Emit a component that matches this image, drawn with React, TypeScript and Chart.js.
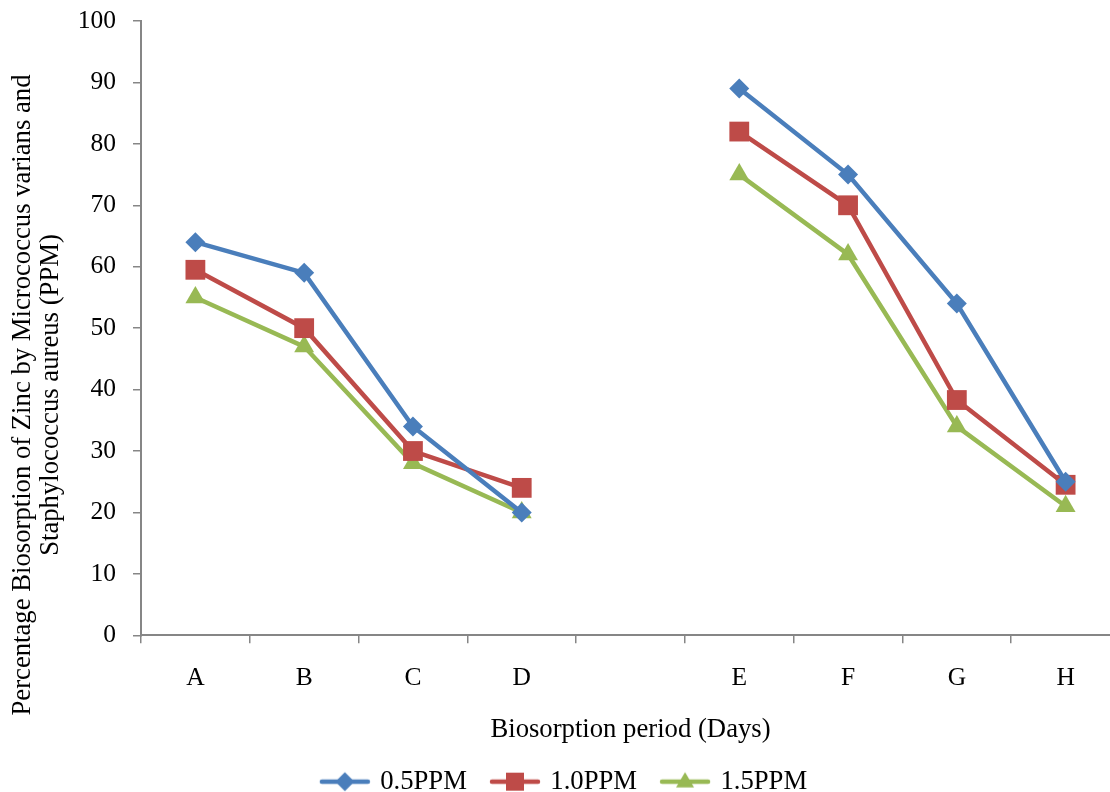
import React, { useEffect, useRef } from "react";
import { Chart, registerables } from "chart.js";

Chart.register(...registerables);

const categories = ["A", "B", "C", "D", "", "E", "F", "G", "H"];
const seriesNames = ["0.5PPM", "1.0PPM", "1.5PPM"];
const ppm05 = [64, 59, 34, 20, null, 89, 75, 54, 25];
const ppm10 = [59.5, 50, 30, 24, null, 82, 70, 38.3, 24.5];
const ppm15 = [55, 47, 28, 20, null, 75, 62, 34, 21];
const yTicks = [0, 10, 20, 30, 40, 50, 60, 70, 80, 90, 100];
const xTitle = "Biosorption period (Days)";
const yTitleLines = [
  "Percentage Biosorption of Zinc by Micrococcus varians and",
  "Staphylococcus aureus (PPM)",
];

const colors = ["#4A7EBB", "#BE4B48", "#98B954"];
const pointStyles = ["rectRot", "rect", "triangle"];
const pointRadii = [10, 14, 11.5];
const FONT = "'Liberation Serif', 'Times New Roman', serif";
const AXIS = "#868686";
const TICK_SIZE = 25.5;
const TITLE_SIZE = 26.7;
const W = 1124;
const H = 805;

function legendSymbol(color: string, style: string, r: number) {
  const c = document.createElement("canvas");
  c.width = 56;
  c.height = 24;
  const ctx = c.getContext("2d")!;
  ctx.strokeStyle = color;
  ctx.fillStyle = color;
  ctx.lineWidth = 4.5;
  ctx.lineCap = "round";
  ctx.beginPath();
  ctx.moveTo(5, 12);
  ctx.lineTo(51, 12);
  ctx.stroke();
  ctx.beginPath();
  const cx = 28;
  if (style === "rectRot") {
    ctx.moveTo(cx, 12 - r);
    ctx.lineTo(cx + r, 12);
    ctx.lineTo(cx, 12 + r);
    ctx.lineTo(cx - r, 12);
  } else if (style === "rect") {
    const s = r * 0.95;
    ctx.rect(cx - s, 12 - s, 2 * s, 2 * s);
  } else {
    const h = r;
    ctx.moveTo(cx, 12 - h);
    ctx.lineTo(cx + h * 0.95, 12 + h * 0.6);
    ctx.lineTo(cx - h * 0.95, 12 + h * 0.6);
  }
  ctx.closePath();
  ctx.fill();
  return c;
}

const yTitlePlugin = {
  id: "yTitle",
  afterDraw(chart: any) {
    const ctx = chart.ctx;
    ctx.save();
    ctx.fillStyle = "#000";
    ctx.font = `${TITLE_SIZE}px ${FONT}`;
    ctx.textAlign = "center";
    ctx.textBaseline = "middle";
    const xs = [23, 51];
    yTitleLines.forEach((t, i) => {
      ctx.save();
      ctx.translate(xs[i], 395);
      ctx.rotate(-Math.PI / 2);
      ctx.fillText(t, 0, 0);
      ctx.restore();
    });
    ctx.restore();
  },
};

export default function App() {
  const ref = useRef<HTMLCanvasElement>(null);
  useEffect(() => {
    const data = [ppm05, ppm10, ppm15];
    const symbols = colors.map((c, i) => legendSymbol(c, pointStyles[i], 9.5));
    const chart = new Chart(ref.current!, {
      type: "line",
      data: {
        labels: categories,
        datasets: seriesNames.map((name, i) => ({
          label: name,
          data: data[i],
          borderColor: colors[i],
          backgroundColor: colors[i],
          borderWidth: 4.5,
          pointStyle: pointStyles[i] as any,
          pointRadius: pointRadii[i],
          pointBorderWidth: 0,
          pointBackgroundColor: colors[i],
          spanGaps: false,
          tension: 0,
          clip: false as any,
        })),
      },
      options: {
        animation: false,
        responsive: false,
        layout: { autoPadding: false, padding: { top: 21, right: 4, bottom: 0, left: 10 } },
        plugins: {
          tooltip: { enabled: false },
          legend: {
            position: "bottom",
            labels: {
              usePointStyle: true,
              pointStyleWidth: 44,
              padding: 26,
              color: "#000",
              font: { family: FONT, size: TITLE_SIZE, lineHeight: 1 },
              generateLabels: (ch: any) =>
                ch.data.datasets.map((d: any, i: number) => ({
                  text: d.label,
                  pointStyle: symbols[i],
                  fillStyle: colors[i],
                  strokeStyle: colors[i],
                  lineWidth: 0,
                  datasetIndex: i,
                  hidden: false,
                  fontColor: "#000",
                })),
            },
          },
        },
        scales: {
          x: {
            type: "category",
            offset: true,
            afterFit: (s: any) => {
              s.height = 107;
              s.paddingLeft = 0;
              s.paddingRight = 0;
            },
            grid: {
              offset: true,
              drawOnChartArea: false,
              drawTicks: true,
              tickLength: 8,
              color: AXIS,
              lineWidth: 1.5,
            },
            border: { display: true, color: AXIS, width: 2 },
            ticks: {
              color: "#000",
              padding: 20,
              maxRotation: 0,
              autoSkip: false,
              font: { family: FONT, size: TICK_SIZE },
            },
            title: {
              display: true,
              text: xTitle,
              color: "#000",
              padding: { top: 0, bottom: 0 },
              font: { family: FONT, size: TITLE_SIZE, lineHeight: 0.9 },
            },
          },
          y: {
            min: 0,
            max: 100,
            afterFit: (s: any) => {
              s.width = 131;
              s.paddingTop = 0;
              s.paddingBottom = 0;
            },
            afterBuildTicks: (s: any) => {
              s.ticks = yTicks.map((v) => ({ value: v }));
            },
            grid: {
              drawOnChartArea: false,
              drawTicks: true,
              tickLength: 8,
              color: AXIS,
              lineWidth: 1.5,
            },
            border: { display: true, color: AXIS, width: 2 },
            ticks: {
              color: "#000",
              padding: 17,
              font: { family: FONT, size: TICK_SIZE },
            },
          },
        },
      },
      plugins: [yTitlePlugin],
    });
    return () => chart.destroy();
  }, []);

  return (
    <div
      style={{
        position: "fixed",
        left: 0,
        top: 0,
        width: 1110,
        height: 792,
        overflow: "hidden",
        background: "#fff",
      }}
    >
      <canvas
        ref={ref}
        width={W}
        height={H}
        style={{ position: "absolute", left: 0, top: 0, width: W, height: H }}
      />
    </div>
  );
}
